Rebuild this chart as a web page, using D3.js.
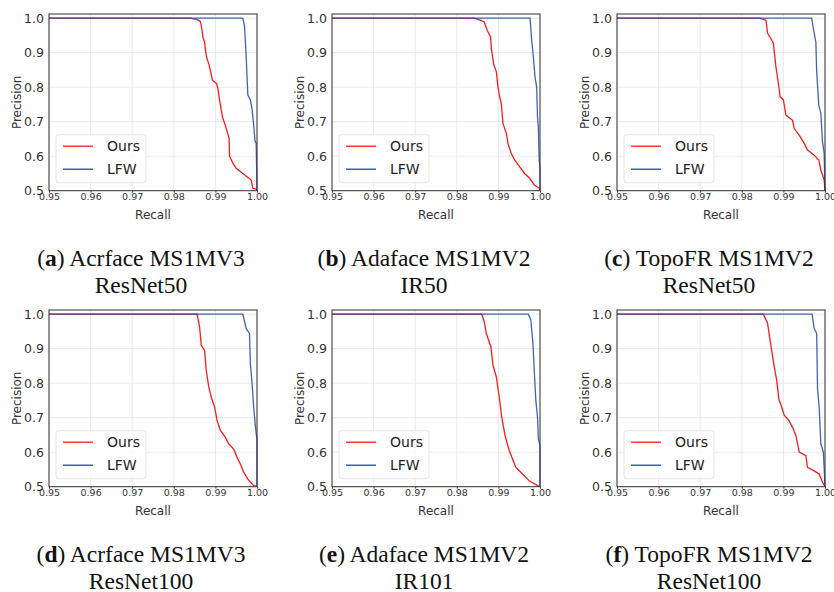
<!DOCTYPE html>
<html>
<head>
<meta charset="utf-8">
<script src="https://cdn.jsdelivr.net/npm/d3@7"></script>
<style>
  body { margin: 0; background: #fff; }
  svg { display: block; }
</style>
</head>
<body>
<svg id="chart"></svg>
<script>
// ticks
const recallTicks = [0.95, 0.96, 0.97, 0.98, 0.99, 1.00];
const precisionTicks = [0.5, 0.6, 0.7, 0.8, 0.9, 1.0];
const seriesNames = ['Ours', 'LFW'];

// [recall, precision]
const oursA = [[0.94, 1.0], [0.984, 1.0], [0.9858, 0.995], [0.9864, 0.99], [0.9868, 0.965], [0.987, 0.946], [0.9874, 0.93], [0.9878, 0.89], [0.9885, 0.864], [0.9893, 0.82], [0.9903, 0.81], [0.9906, 0.796], [0.991, 0.763], [0.9917, 0.714], [0.9925, 0.685], [0.9933, 0.652], [0.9934, 0.6], [0.9942, 0.58], [0.995, 0.565], [0.9966, 0.55], [0.9986, 0.531], [0.999, 0.507], [0.9998, 0.505], [1.0, 0.5]];
const lfwA = [[0.94, 1.0], [0.9966, 1.0], [0.997, 0.977], [0.9974, 0.888], [0.9978, 0.777], [0.9984, 0.763], [0.9988, 0.738], [0.9992, 0.69], [0.9995, 0.646], [0.9998, 0.637], [1.0, 0.5]];

const oursB = [[0.94, 1.0], [0.9842, 1.0], [0.9854, 0.995], [0.9866, 0.989], [0.9873, 0.965], [0.9881, 0.946], [0.9883, 0.912], [0.9889, 0.864], [0.9895, 0.845], [0.9899, 0.80], [0.9903, 0.772], [0.9907, 0.753], [0.9911, 0.695], [0.9919, 0.666], [0.9923, 0.637], [0.9931, 0.608], [0.9939, 0.589], [0.9951, 0.569], [0.9963, 0.55], [0.9975, 0.536], [0.9987, 0.516], [0.9999, 0.507], [1.0, 0.5]];
const lfwB = [[0.94, 1.0], [0.9976, 1.0], [0.998, 0.936], [0.9984, 0.888], [0.9988, 0.83], [0.9992, 0.80], [0.9994, 0.714], [0.9996, 0.685], [0.9998, 0.589], [1.0, 0.57], [1.0, 0.5]];

const oursC = [[0.94, 1.0], [0.9842, 1.0], [0.9858, 0.994], [0.9862, 0.956], [0.987, 0.941], [0.9876, 0.927], [0.9882, 0.859], [0.9888, 0.811], [0.9892, 0.772], [0.99, 0.763], [0.9906, 0.719], [0.9922, 0.704], [0.9926, 0.68], [0.9938, 0.661], [0.995, 0.637], [0.9958, 0.618], [0.9974, 0.603], [0.9985, 0.589], [0.999, 0.56], [0.9998, 0.531], [1.0, 0.5]];
const lfwC = [[0.94, 1.0], [0.9968, 1.0], [0.9972, 0.97], [0.9978, 0.931], [0.998, 0.845], [0.9985, 0.748], [0.999, 0.724], [0.9994, 0.642], [0.9998, 0.608], [1.0, 0.5]];

const oursD = [[0.94, 1.0], [0.9856, 1.0], [0.9862, 0.963], [0.9866, 0.91], [0.9874, 0.895], [0.9878, 0.837], [0.9884, 0.789], [0.989, 0.76], [0.9898, 0.731], [0.9904, 0.692], [0.9912, 0.663], [0.9924, 0.643], [0.9932, 0.624], [0.9944, 0.609], [0.9952, 0.585], [0.996, 0.566], [0.9968, 0.542], [0.9978, 0.522], [0.9992, 0.503], [1.0, 0.5]];
const lfwD = [[0.94, 1.0], [0.9966, 1.0], [0.9974, 0.958], [0.9982, 0.944], [0.9984, 0.857], [0.9988, 0.803], [0.9992, 0.731], [0.9996, 0.677], [1.0, 0.634], [1.0, 0.5]];

const oursE = [[0.94, 1.0], [0.986, 1.0], [0.9866, 0.978], [0.9871, 0.944], [0.9882, 0.905], [0.9887, 0.852], [0.9895, 0.818], [0.9902, 0.76], [0.9908, 0.702], [0.9916, 0.648], [0.9926, 0.605], [0.9934, 0.58], [0.9942, 0.556], [0.9958, 0.537], [0.9974, 0.517], [0.9994, 0.503], [1.0, 0.5]];
const lfwE = [[0.94, 1.0], [0.9972, 1.0], [0.9978, 0.983], [0.9983, 0.915], [0.9987, 0.818], [0.999, 0.75], [0.9994, 0.702], [0.9996, 0.639], [1.0, 0.619], [1.0, 0.5]];

const oursF = [[0.94, 1.0], [0.9852, 1.0], [0.9862, 0.973], [0.9868, 0.924], [0.9873, 0.886], [0.9878, 0.847], [0.9884, 0.808], [0.9889, 0.755], [0.9897, 0.726], [0.9902, 0.707], [0.9913, 0.692], [0.9922, 0.672], [0.993, 0.648], [0.9938, 0.6], [0.9954, 0.59], [0.9958, 0.556], [0.9974, 0.546], [0.9986, 0.537], [0.9994, 0.513], [1.0, 0.5]];
const lfwF = [[0.94, 1.0], [0.9969, 1.0], [0.9974, 0.958], [0.998, 0.944], [0.9982, 0.784], [0.9986, 0.731], [0.999, 0.624], [0.9996, 0.6], [0.9998, 0.556], [1.0, 0.5]];

const captionTags = ['a', 'b', 'c', 'd', 'e', 'f'];
const captionLine1 = ['Acrface MS1MV3', 'Adaface MS1MV2', 'TopoFR MS1MV2', 'Acrface MS1MV3', 'Adaface MS1MV2', 'TopoFR MS1MV2'];
const captionLine2 = ['ResNet50', 'IR50', 'ResNet50', 'ResNet100', 'IR101', 'ResNet100'];

const oursSeries = [oursA, oursB, oursC, oursD, oursE, oursF];
const lfwSeries = [lfwA, lfwB, lfwC, lfwD, lfwE, lfwF];

const width = 834;
const height = 592;
const plotW = 208;
const plotH = 176.7;
const lefts = [49, 332, 617];
const tops = [14, 310];
const colors = { Ours: '#ff1a1a', LFW: '#2146a6' };
const font = 'DejaVu Sans, sans-serif';

const svg = d3.select('#chart')
    .attr('width', width)
    .attr('height', height);

const defs = svg.append('defs');

oursSeries.forEach((ours, i) => {
    const col = i % 3;
    const row = Math.floor(i / 3);
    const lfw = lfwSeries[i];

    const g = svg.append('g')
        .attr('transform', `translate(${lefts[col]},${tops[row]})`);

    const x = d3.scaleLinear().domain([0.95, 1.0]).range([0, plotW]);
    const y = d3.scaleLinear().domain([0.5, 1.012]).range([plotH, 0]);

    // grid
    g.append('g')
        .selectAll('line')
        .data(recallTicks)
        .enter()
        .append('line')
        .attr('x1', d => x(d)).attr('x2', d => x(d))
        .attr('y1', 0).attr('y2', plotH)
        .attr('stroke', '#e3e3e3')
        .attr('stroke-width', 0.8);

    g.append('g')
        .selectAll('line')
        .data(precisionTicks)
        .enter()
        .append('line')
        .attr('x1', 0).attr('x2', plotW)
        .attr('y1', d => y(d)).attr('y2', d => y(d))
        .attr('stroke', '#e3e3e3')
        .attr('stroke-width', 0.8);

    // x axis
    const xAxis = g.append('g')
        .attr('transform', `translate(0,${plotH})`)
        .call(d3.axisBottom(x).tickValues(recallTicks).tickFormat(d3.format('.2f')).tickSize(2).tickPadding(1));
    xAxis.select('.domain').remove();
    xAxis.selectAll('line').attr('stroke', '#444');
    xAxis.selectAll('text')
        .attr('font-family', font)
        .attr('font-size', '9.5px')
        .attr('fill', '#333');

    // y axis
    const yAxis = g.append('g')
        .call(d3.axisLeft(y).tickValues(precisionTicks).tickFormat(d3.format('.1f')).tickSize(0).tickPadding(5));
    yAxis.select('.domain').remove();
    yAxis.selectAll('text')
        .attr('font-family', font)
        .attr('font-size', '12.5px')
        .attr('fill', '#333');

    // curves
    const clipId = `clip-${i}`;
    defs.append('clipPath')
        .attr('id', clipId)
        .append('rect')
        .attr('x', 0).attr('y', -1)
        .attr('width', plotW + 1).attr('height', plotH + 1);

    const line = d3.line()
        .x(d => x(d[0]))
        .y(d => y(d[1]));

    const curves = g.append('g').attr('clip-path', `url(#${clipId})`);
    curves.append('path')
        .attr('d', line(ours))
        .attr('fill', 'none')
        .attr('stroke', colors.Ours)
        .attr('stroke-width', 1.3);
    curves.append('path')
        .attr('d', line(lfw))
        .attr('fill', 'none')
        .attr('stroke', colors.LFW)
        .attr('stroke-width', 1.3)
        .attr('stroke-opacity', 0.85);

    // frame
    g.append('rect')
        .attr('width', plotW)
        .attr('height', plotH)
        .attr('fill', 'none')
        .attr('stroke', '#333')
        .attr('stroke-width', 1);

    // labels
    g.append('text')
        .attr('transform', `translate(-32,${plotH / 2}) rotate(-90)`)
        .attr('text-anchor', 'middle')
        .attr('dy', '0.35em')
        .attr('font-family', font)
        .attr('font-size', '12px')
        .attr('fill', '#333')
        .text('Precision');

    g.append('text')
        .attr('x', plotW / 2)
        .attr('y', plotH + 28)
        .attr('text-anchor', 'middle')
        .attr('font-family', font)
        .attr('font-size', '12px')
        .attr('fill', '#333')
        .text('Recall');

    // legend
    const lg = g.append('g').attr('transform', `translate(7,${plotH - 56})`);
    lg.append('rect')
        .attr('width', 90).attr('height', 48)
        .attr('rx', 3)
        .attr('fill', 'rgba(255,255,255,0.85)')
        .attr('stroke', '#dcdcdc')
        .attr('stroke-width', 0.8);
    seriesNames.forEach((name, k) => {
        lg.append('line')
            .attr('x1', 7).attr('x2', 37)
            .attr('y1', 11.5 + k * 23).attr('y2', 11.5 + k * 23)
            .attr('stroke', colors[name])
            .attr('stroke-width', 1.3);
        lg.append('text')
            .attr('x', 51)
            .attr('y', 16.5 + k * 23)
            .attr('font-family', font)
            .attr('font-size', '14px')
            .attr('fill', '#222')
            .text(name);
    });

    // caption
    const cx = lefts[col] + plotW / 2 - 12;
    const cap = svg.append('text')
        .attr('x', cx)
        .attr('y', tops[row] + 252)
        .attr('text-anchor', 'middle')
        .attr('font-family', 'Liberation Serif, Times New Roman, serif')
        .attr('font-size', '23.5px')
        .attr('fill', '#111');
    cap.append('tspan').text('(');
    cap.append('tspan').attr('font-weight', 'bold').text(captionTags[i]);
    cap.append('tspan').text(') ' + captionLine1[i]);

    svg.append('text')
        .attr('x', cx)
        .attr('y', tops[row] + 279)
        .attr('text-anchor', 'middle')
        .attr('font-family', 'Liberation Serif, Times New Roman, serif')
        .attr('font-size', '23.5px')
        .attr('fill', '#111')
        .text(captionLine2[i]);
});
</script>
</body>
</html>
